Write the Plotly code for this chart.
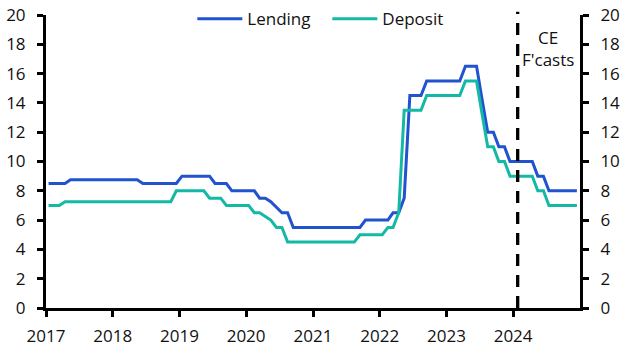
import pandas as pd
import plotly.graph_objects as go

# Monthly observations (mid-month), Dec 2016 .. Dec 2024
dates = pd.date_range("2016-12-15", "2024-12-15", freq="MS") + pd.Timedelta(days=14)

lending = (
    [8.5]
    + [8.5, 8.5, 8.5, 8.75, 8.75, 8.75, 8.75, 8.75, 8.75, 8.75, 8.75, 8.75]          # 2017
    + [8.75, 8.75, 8.75, 8.75, 8.5, 8.5, 8.5, 8.5, 8.5, 8.5, 8.5, 9.0]               # 2018
    + [9.0, 9.0, 9.0, 9.0, 9.0, 8.5, 8.5, 8.5, 8.0, 8.0, 8.0, 8.0]                  # 2019
    + [8.0, 7.5, 7.5, 7.25, 6.9, 6.5, 6.5, 5.5, 5.5, 5.5, 5.5, 5.5]                 # 2020
    + [5.5, 5.5, 5.5, 5.5, 5.5, 5.5, 5.5, 5.5, 6.0, 6.0, 6.0, 6.0]                  # 2021
    + [6.0, 6.5, 6.5, 7.5, 14.5, 14.5, 14.5, 15.5, 15.5, 15.5, 15.5, 15.5]          # 2022
    + [15.5, 15.5, 16.5, 16.5, 16.5, 14.25, 12.0, 12.0, 11.0, 11.0, 10.0, 10.0]     # 2023
    + [10.0, 10.0, 10.0, 9.0, 9.0, 8.0, 8.0, 8.0, 8.0, 8.0, 8.0, 8.0]               # 2024
)

deposit = (
    [7.0]
    + [7.0, 7.0, 7.25, 7.25, 7.25, 7.25, 7.25, 7.25, 7.25, 7.25, 7.25, 7.25]        # 2017
    + [7.25, 7.25, 7.25, 7.25, 7.25, 7.25, 7.25, 7.25, 7.25, 7.25, 8.0, 8.0]        # 2018
    + [8.0, 8.0, 8.0, 8.0, 7.5, 7.5, 7.5, 7.0, 7.0, 7.0, 7.0, 7.0]                  # 2019
    + [6.5, 6.5, 6.25, 6.0, 5.5, 5.5, 4.5, 4.5, 4.5, 4.5, 4.5, 4.5]                 # 2020
    + [4.5, 4.5, 4.5, 4.5, 4.5, 4.5, 4.5, 5.0, 5.0, 5.0, 5.0, 5.0]                  # 2021
    + [5.5, 5.5, 6.5, 13.5, 13.5, 13.5, 13.5, 14.5, 14.5, 14.5, 14.5, 14.5]         # 2022
    + [14.5, 14.5, 15.5, 15.5, 15.5, 13.25, 11.0, 11.0, 10.0, 10.0, 9.0, 9.0]       # 2023
    + [9.0, 9.0, 9.0, 8.0, 8.0, 7.0, 7.0, 7.0, 7.0, 7.0, 7.0, 7.0]                  # 2024
)

forecast_start = "2024-01-26"
year_ticks = [f"{y}-01-01" for y in range(2017, 2025)]
year_labels = [str(y) for y in range(2017, 2025)]
y_ticks = list(range(0, 21, 2))

FONT = "Open Sans"
FS = 17
BLUE = "#2152CF"
TEAL = "#14B9A6"

fig = go.Figure()
fig.add_trace(go.Scatter(x=dates, y=lending, name="Lending", mode="lines",
                         line=dict(color=BLUE, width=3)))
fig.add_trace(go.Scatter(x=dates, y=deposit, name="Deposit", mode="lines",
                         line=dict(color=TEAL, width=3)))
# invisible trace to anchor the right-hand axis
fig.add_trace(go.Scatter(x=dates[:1], y=deposit[:1], yaxis="y2", mode="lines",
                         showlegend=False, hoverinfo="skip", line=dict(width=0)))

fig.add_shape(type="line", xref="x", yref="paper", x0=forecast_start, x1=forecast_start,
              y0=0, y1=1.011, line=dict(color="black", width=3.3, dash="12px,9px"))

fig.add_annotation(x=0.940, xref="paper", xanchor="center", y=17.71, yref="y",
                   yanchor="middle", text="CE<br>F'casts",
                   showarrow=False, font=dict(family=FONT, size=FS, color="#111"),
                   align="center")

axis_common = dict(showgrid=False, zeroline=False, showline=True, linecolor="black",
                   linewidth=3, ticks="outside", tickcolor="black", tickwidth=3,
                   ticklen=6, automargin=False,
                   tickfont=dict(family=FONT, size=FS, color="#111"))

fig.update_layout(
    width=632, height=357,
    margin=dict(l=46, r=52, t=15, b=49, autoexpand=False),
    paper_bgcolor="white", plot_bgcolor="white",
    showlegend=True,
    legend=dict(orientation="h", x=0.274, xanchor="left", y=0.986, yanchor="middle",
                font=dict(family=FONT, size=FS, color="#111"),
                bgcolor="rgba(0,0,0,0)", itemwidth=45, entrywidth=75,
                entrywidthmode="pixels", tracegroupgap=0),
    xaxis=dict(range=["2017-01-01", "2025-01-01"], tickvals=year_ticks,
               ticktext=year_labels, ticklabelstandoff=5, **axis_common),
    yaxis=dict(range=[0, 20], tickvals=y_ticks, ticklabelstandoff=8, **axis_common),
    yaxis2=dict(range=[0, 20], tickvals=y_ticks, overlaying="y", side="right",
                ticklabelstandoff=8, **axis_common),
)

fig.write_html("out.html", config={"displayModeBar": False},
               post_script="document.body.style.margin='0';document.body.style.overflow='hidden';")
